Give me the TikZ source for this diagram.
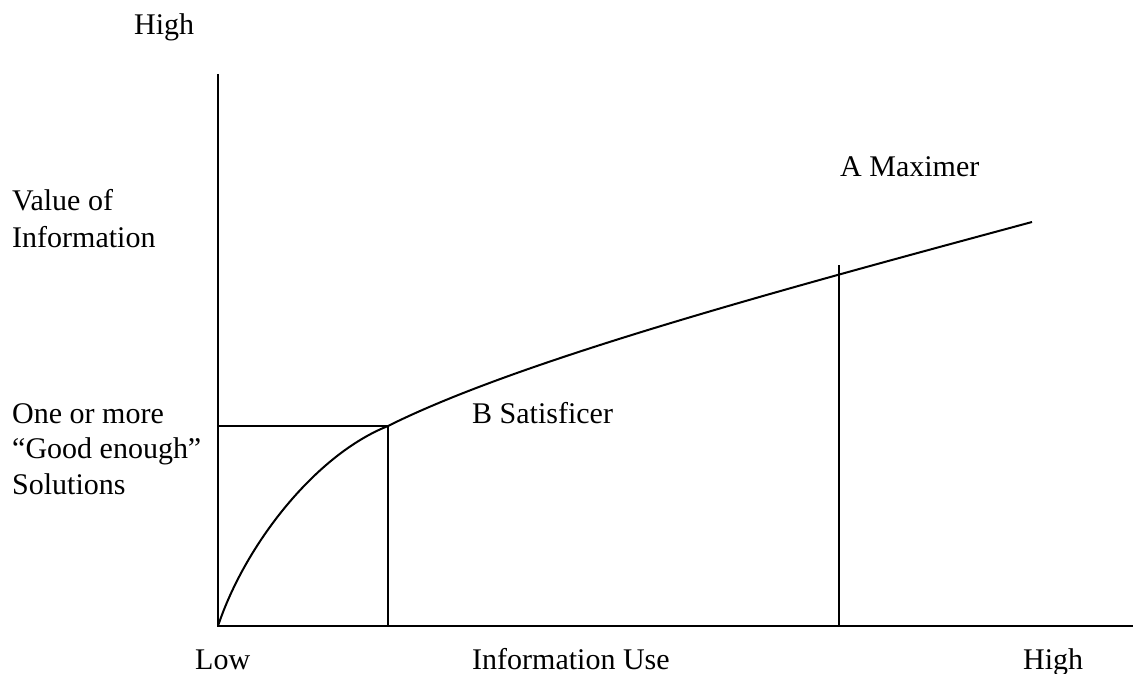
\documentclass[tikz,border=0pt]{standalone}
\usepackage{fontspec}
\setmainfont{Liberation Serif}
\begin{document}
\begin{tikzpicture}[x=1pt,y=-1pt,
  lbl/.style={anchor=base west,inner sep=0pt,font=\fontsize{30}{36}\selectfont},
  axis/.style={line width=2pt},
  guide/.style={line width=2pt},
  curve/.style={line width=2pt,line join=round}]
\useasboundingbox (0,0) rectangle (1133,674);

% axes
\coordinate (origin) at (218,626);
\coordinate (ytop) at (218,74);
\coordinate (xend) at (1133,626);
\draw[axis] (ytop) -- (origin) -- (xend);

% satisficer point and its guide lines
\coordinate (B) at (388,426);
\coordinate (By) at (218,426);
\coordinate (Bx) at (388,626);
\draw[guide] (By) -- (B) -- (Bx);

% maximer guide line
\coordinate (Atop) at (839,265);
\coordinate (Ax) at (839,626);
\draw[guide] (Atop) -- (Ax);

% value curve: steep rise to B, then a slowly flattening run
\coordinate (cend) at (1032,222);
\draw[curve] (origin) .. controls (245,545) and (315,455) .. (B)
  .. controls (520,360) and (782,289.5) .. (cend);

% labels
\node[lbl] (yhigh) at (134,35) {High};
\node[lbl] (yl1) at (12,211) {Value of};
\node[lbl] (yl2) at (12,247) {Information};
\node[lbl] (g1) at (12,423) {One or more};
\node[lbl] (g2) at (12,458) {“Good enough”};
\node[lbl] (g3) at (12,494) {Solutions};
\node[lbl] (bsat) at (472,423) {B Satisficer};
\node[lbl] (amax) at (840,176) {A Maximer};
\node[lbl] (xlow) at (195,669) {Low};
\node[lbl] (xlbl) at (472,669) {Information Use};
\node[lbl] (xhigh) at (1023,669) {High};
\end{tikzpicture}
\end{document}
